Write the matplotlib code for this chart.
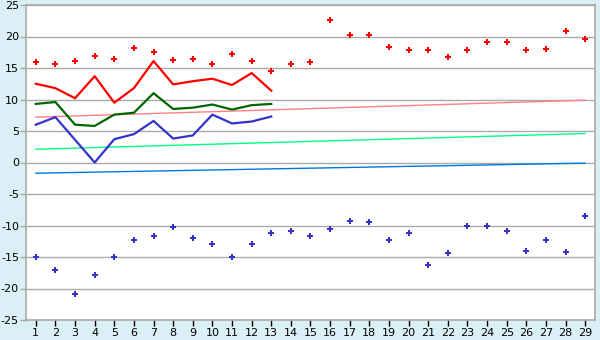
import matplotlib
matplotlib.use('Agg')
from matplotlib import pyplot as plt

plt.rcParams['axes.unicode_minus'] = False

days = list(range(1, 30))

# scattered points
high_pts = [15.9, 15.6, 16.1, 16.9, 16.4, 18.1, 17.6, 16.2, 16.5, 15.6,
            17.2, 16.1, 14.6, 15.6, 15.9, 22.6, 20.2, 20.3, 18.3, 17.8,
            17.8, 16.7, 17.8, 19.1, 19.1, 17.8, 18.0, 20.8, 19.6]
low_pts = [-15.0, -17.0, -20.9, -17.9, -15.0, -12.3, -11.7, -10.3, -12.0, -13.0,
           -15.0, -13.0, -11.2, -10.8, -11.7, -10.6, -9.3, -9.5, -12.3, -11.2,
           -16.2, -14.4, -10.0, -10.1, -10.9, -14.1, -12.3, -14.2, -8.5]

# lines for the first 13 days
line_days = list(range(1, 14))
red_line = [12.5, 11.8, 10.2, 13.7, 9.5, 11.8, 16.1, 12.4, 12.9, 13.3, 12.3, 14.2, 11.4]
green_line = [9.3, 9.6, 6.0, 5.8, 7.6, 7.9, 11.0, 8.5, 8.7, 9.2, 8.4, 9.1, 9.3]
blue_line = [6.0, 7.2, 3.6, 0.0, 3.7, 4.5, 6.6, 3.8, 4.3, 7.6, 6.2, 6.5, 7.3]

# trend lines (start / end)
trend_x = [1, 29]
trend_red = [7.2, 9.9]
trend_green = [2.1, 4.6]
trend_blue = [-1.7, -0.1]

bg = '#daeff6'
grid_col = '#aaaaaa'

fig = plt.figure(figsize=(6, 3.4), dpi=100, facecolor=bg)
ax = fig.add_axes([26 / 600, 20 / 340, 569 / 600, 315 / 340])
ax.set_facecolor('white')

ax.plot(trend_x, trend_red, color='#ff8080', lw=1)
ax.plot(trend_x, trend_green, color='#00ff80', lw=1)
ax.plot(trend_x, trend_blue, color='#0077dd', lw=1)

ax.plot(line_days, red_line, color='#ff0000', lw=1.6)
ax.plot(line_days, green_line, color='#006600', lw=1.6)
ax.plot(line_days, blue_line, color='#3333cc', lw=1.6)

ax.plot(days, high_pts, 'P', color='#ff0000', markersize=5, markeredgewidth=0, linestyle='none')
ax.plot(days, low_pts, 'P', color='#3333cc', markersize=5, markeredgewidth=0, linestyle='none')

ax.set_xlim(0.5, 29.5)
ax.set_ylim(-25, 25)
ax.set_xticks(days)
ax.set_yticks(range(-25, 26, 5))
ax.yaxis.grid(True, color=grid_col, lw=1)
ax.set_axisbelow(True)
for s in ax.spines.values():
    s.set_color(grid_col)
    s.set_linewidth(1.2)
ax.tick_params(labelsize=8, length=4, width=1)
ax.tick_params(axis='y', color=grid_col, pad=1)
ax.tick_params(axis='x', color='black', pad=2)

fig.savefig('out.png', dpi=100, facecolor=bg)
